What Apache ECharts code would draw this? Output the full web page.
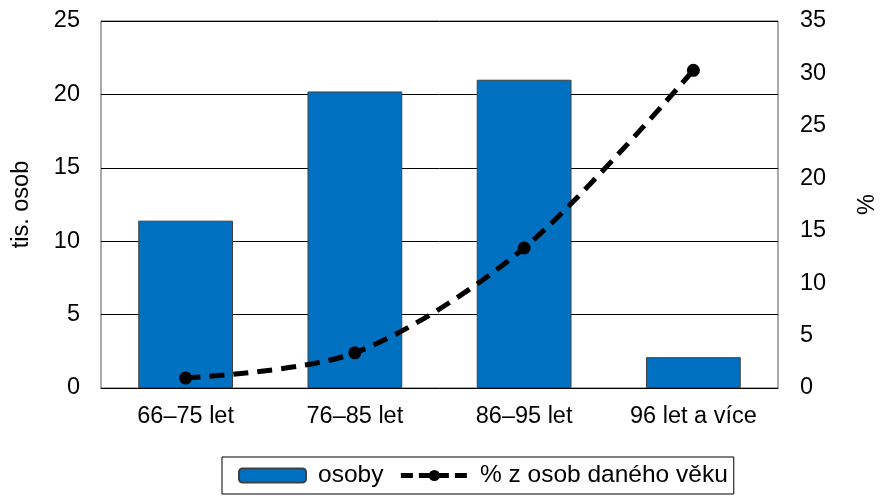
<!DOCTYPE html>
<html>
    <head>
        <title>osoby podle věku</title>
        <meta charset="utf-8">
        <script src="https://cdn.jsdelivr.net/npm/echarts@6/dist/echarts.min.js"></script>
    </head>
    <body style="margin:0;">
        <div id="chart" style="width:882px; height:496px;"></div>
        <script>
            var categories = ['66–75 let', '76–85 let', '86–95 let', '96 let a více'];
            var osoby = [11.4, 20.2, 21.0, 2.1];
            var procenta = [0.95, 3.35, 13.35, 30.3];
            var leftTicks = [0, 5, 10, 15, 20, 25];
            var rightTicks = [0, 5, 10, 15, 20, 25, 30, 35];

            var font = 'Liberation Sans, Arial, sans-serif';
            var fs = 23.5;
            var chart = echarts.init(document.getElementById('chart'), null, {renderer: 'canvas'});
            chart.setOption({
                animation: false,
                textStyle: {fontFamily: font},
                grid: {left: 101, right: 104, top: 21, bottom: 108, show: true, borderColor: '#595959', borderWidth: 1,
                       containLabel: false, outerBoundsMode: 'none'},
                legend: {
                    bottom: 2, left: 222,
                    borderColor: '#000', borderWidth: 1, padding: [6, 6, 6, 16],
                    itemWidth: 67, itemHeight: 14, itemGap: 15,
                    textStyle: {fontSize: 24.5, color: '#000', fontFamily: font, padding: [0, 0, 0, 7]},
                    data: [
                        {name: 'osoby'},
                        {name: '% z osob daného věku', lineStyle: {width: 5, type: [12, 6]}}
                    ]
                },
                xAxis: {
                    type: 'category',
                    data: categories,
                    axisLine: {lineStyle: {color: '#000'}},
                    axisTick: {show: false},
                    axisLabel: {fontSize: fs, color: '#000', margin: 17}
                },
                yAxis: [{
                    type: 'value', min: leftTicks[0], max: leftTicks[leftTicks.length - 1], interval: 5,
                    name: 'tis. osob', nameLocation: 'middle', nameGap: 67, nameRotate: 90,
                    nameTextStyle: {fontSize: fs, color: '#000'},
                    axisLine: {show: false}, axisTick: {show: false},
                    axisLabel: {fontSize: fs, color: '#000', margin: 21},
                    splitLine: {lineStyle: {color: '#000', width: 1}}
                }, {
                    type: 'value', min: rightTicks[0], max: rightTicks[rightTicks.length - 1], interval: 5,
                    name: '%', nameLocation: 'middle', nameGap: 78, nameRotate: 90,
                    nameTextStyle: {fontSize: fs, color: '#000'},
                    axisLine: {show: false}, axisTick: {show: false},
                    axisLabel: {fontSize: fs, color: '#000', margin: 22},
                    splitLine: {show: false}
                }],
                series: [{
                    name: 'osoby',
                    type: 'bar',
                    data: osoby,
                    barWidth: '56%',
                    itemStyle: {color: '#0070C0', borderColor: '#404040', borderWidth: 1}
                }, {
                    name: '% z osob daného věku',
                    type: 'line',
                    yAxisIndex: 1,
                    data: procenta,
                    symbol: 'circle', symbolSize: 13,
                    smooth: 0.3,
                    lineStyle: {color: '#000', width: 5, type: [15, 9]},
                    itemStyle: {color: '#000'}
                }]
            });
        </script>
    </body>
</html>
